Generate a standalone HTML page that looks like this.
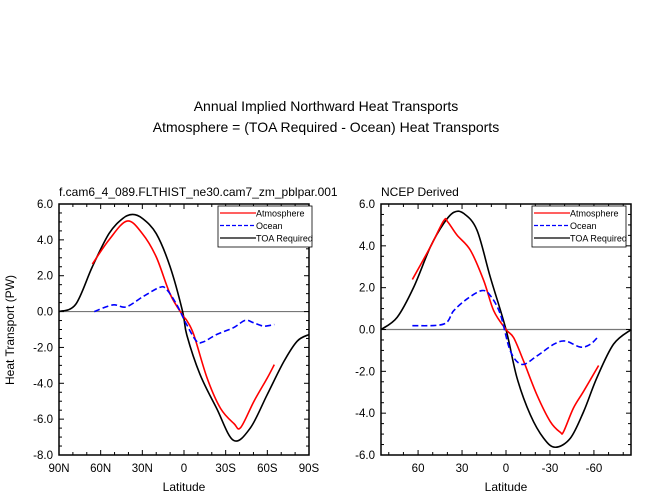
<!DOCTYPE html>
<html><head><meta charset="utf-8"><style>
body{margin:0;background:#fff;}
svg{display:block;font-family:"Liberation Sans",Arial,sans-serif;}
</style></head><body>
<svg id="c" width="653" height="500" viewBox="0 0 653 500">
<text x="326" y="111" text-anchor="middle" font-size="14">Annual Implied Northward Heat Transports</text>
<text x="326" y="132" text-anchor="middle" font-size="14">Atmosphere = (TOA Required - Ocean) Heat Transports</text>
<text x="14" y="330" text-anchor="middle" font-size="12" transform="rotate(-90 14 330)">Heat Transport (PW)</text>
</svg>
<script>
// Left panel data
const leftTOALat=[90,78,66,54,44,37,30,20,10,1,-2,-11.5,-23.5,-35.6,-47.7,-59.8,-71.8,-81.5,-90];
const leftTOAVal=[0,0.4,2.5,4.35,5.2,5.42,5.2,4.35,2.5,0,-1.3,-3.5,-5.4,-7.18,-6.5,-4.65,-2.8,-1.65,-1.28];
const leftAtmLat=[66,54,41,30,20,10,1,-2,-7,-16.6,-26.3,-36,-40.8,-50.4,-60,-65];
const leftAtmVal=[2.65,4.0,5.05,4.35,3.05,0.98,-0.2,-0.5,-1.28,-3.7,-5.4,-6.25,-6.47,-5.0,-3.7,-2.96];
const leftOcnLat=[64.6,51.3,41.7,29.6,17.5,12.7,5.4,-1.8,-9,-13.9,-23.5,-35.6,-44,-50,-57.5,-65];
const leftOcnVal=[0,0.37,0.26,0.83,1.35,1.25,0.41,-0.71,-1.65,-1.69,-1.28,-0.9,-0.49,-0.62,-0.81,-0.72];
const leftYTicks=[6,4,2,0,-2,-4,-6,-8];
const leftXTicks=[90,60,30,0,-30,-60,-90];
const leftXLabels=["90N","60N","30N","0","30S","60S","90S"];
// Right panel data
const rightTOALat=[85.2,74.3,63,51.6,42.5,35.7,28.9,19.8,10.7,0,-7.5,-16.6,-25.7,-33.6,-43.9,-53,-62,-73.4,-85.5];
const rightTOAVal=[0,0.58,2.02,3.95,5.07,5.6,5.55,4.75,2.5,0,-2.31,-4.08,-5.2,-5.63,-5.2,-3.92,-2.31,-0.7,0];
const rightAtmLat=[63.9,51.6,42.5,39.8,33.4,24.3,15.2,8.4,0,-5.2,-12,-21,-30.2,-37,-39.3,-46,-53,-63.2];
const rightAtmVal=[2.39,3.95,5.2,5.15,4.51,3.79,2.34,0.9,0,-0.39,-1.51,-3.11,-4.4,-4.91,-4.88,-3.76,-2.95,-1.72];
const rightOcnLat=[63.9,42.5,35.7,26.6,16.4,10.7,3.9,-3,-10.9,-21,-32.5,-40.5,-50.7,-57.5,-63.2];
const rightOcnVal=[0.18,0.26,0.9,1.46,1.86,1.62,0.74,-1.03,-1.67,-1.27,-0.71,-0.55,-0.84,-0.71,-0.32];
const rightYTicks=[6,4,2,0,-2,-4,-6];
const rightXTicks=[60,30,0,-30,-60];
const rightXLabels=["60","30","0","-30","-60"];

const svg=document.getElementById('c');
const NS='http://www.w3.org/2000/svg';
function mk(tag,attrs){const e=document.createElementNS(NS,tag);for(const k in attrs)e.setAttribute(k,attrs[k]);svg.appendChild(e);return e;}
function smooth(pts){let d='M'+pts[0][0]+','+pts[0][1];for(let i=0;i<pts.length-1;i++){const p0=pts[i-1]||pts[i],p1=pts[i],p2=pts[i+1],p3=pts[i+2]||p2;
d+=' C'+(p1[0]+(p2[0]-p0[0])/6)+','+(p1[1]+(p2[1]-p0[1])/6)+' '+(p2[0]-(p3[0]-p1[0])/6)+','+(p2[1]-(p3[1]-p1[1])/6)+' '+p2[0]+','+p2[1];}return d;}

function panel(p){
  const sx=v=>p.x0+(p.xmax-v)/(p.xmax-p.xmin)*(p.x1-p.x0);
  const sy=v=>p.y1-(v-p.ymin)/(p.ymax-p.ymin)*(p.y1-p.y0);
  let t=mk('text',{x:p.x0,y:p.y0-8,'font-size':12});t.textContent=p.sub;
  
  
  // zero line
  let z=mk('line',{x1:p.x0,x2:p.x1,y1:sy(0),y2:sy(0),stroke:'#777','stroke-width':1.2});
  
  
  // y ticks
  for(let v=p.ymin;v<=p.ymax+1e-9;v+=0.5){const maj=Math.abs(v-Math.round(v/2)*2)<1e-9;const L=maj?5:3;
    for(const [x,dx] of [[p.x0,1],[p.x1,-1]]){const l=mk('line',{x1:x,x2:x+dx*L,y1:sy(v),y2:sy(v),stroke:'#000','stroke-width':1});
    
    }}
  p.yt.forEach(v=>{const e=mk('text',{x:p.x0-6,y:sy(v)+4,'text-anchor':'end','font-size':11.5});e.textContent=v.toFixed(1);
    
    });
  // x ticks
  for(let v=-90;v<=90;v+=10){if(v<p.xmin-1e-9||v>p.xmax+1e-9)continue;const maj=v%30===0;const L=maj?5:3;
    for(const [y,dy] of [[p.y1,-1],[p.y0,1]]){const l=mk('line',{x1:sx(v),x2:sx(v),y1:y,y2:y+dy*L,stroke:'#000','stroke-width':1});
    
    }}
  p.xt.forEach((v,i)=>{const e=mk('text',{x:sx(v),y:p.y1+17,'text-anchor':'middle','font-size':11.5});e.textContent=p.xl[i];
    
    });
  let xl=mk('text',{x:(p.x0+p.x1)/2,y:p.y1+36,'text-anchor':'middle','font-size':12});xl.textContent='Latitude';
  
  
  const series=[[p.toa[0],p.toa[1],'#000','', 'toa-required-line'],[p.atm[0],p.atm[1],'#f00','','atmosphere-line'],[p.ocn[0],p.ocn[1],'#00f','6,3','ocean-line']];
  series.forEach(s=>{const pts=s[0].map((la,i)=>[sx(la),sy(s[1][i])]);
    const e=mk('path',{d:smooth(pts),fill:'none',stroke:s[2],'stroke-width':1.6,'stroke-dasharray':s[3]});
    
    });
  let f=mk('rect',{x:p.x0,y:p.y0,width:p.x1-p.x0,height:p.y1-p.y0,fill:'none',stroke:'#000','stroke-width':1.5});
  
  
  // legend
  const lx=p.lx,ly=206;
  let lb=mk('rect',{x:lx,y:ly,width:94,height:41,fill:'#fff',stroke:'#000','stroke-width':0.8});
  
  
  [['Atmosphere','#f00',''],['Ocean','#00f','4,2'],['TOA Required','#000','']].forEach((r,i)=>{const y=ly+7+i*12.5;
    const l=mk('line',{x1:lx+2,x2:lx+38,y1:y,y2:y,stroke:r[1],'stroke-width':1.3,'stroke-dasharray':r[2]});
    
    
    const e=mk('text',{x:lx+38,y:y+3.5,'font-size':9});e.textContent=r[0];
    
    });
}
panel({id:'left',x0:59,x1:309,y0:204,y1:455,xmin:-90,xmax:90,ymin:-8,ymax:6,yt:leftYTicks,xt:leftXTicks,xl:leftXLabels,
  sub:'f.cam6_4_089.FLTHIST_ne30.cam7_zm_pblpar.001',toa:[leftTOALat,leftTOAVal],atm:[leftAtmLat,leftAtmVal],ocn:[leftOcnLat,leftOcnVal],lx:218});
panel({id:'right',x0:381,x1:631,y0:204,y1:455,xmin:-85.3,xmax:85.3,ymin:-6,ymax:6,yt:rightYTicks,xt:rightXTicks,xl:rightXLabels,
  sub:'NCEP Derived',toa:[rightTOALat,rightTOAVal],atm:[rightAtmLat,rightAtmVal],ocn:[rightOcnLat,rightOcnVal],lx:532});
</script>
</body></html>
